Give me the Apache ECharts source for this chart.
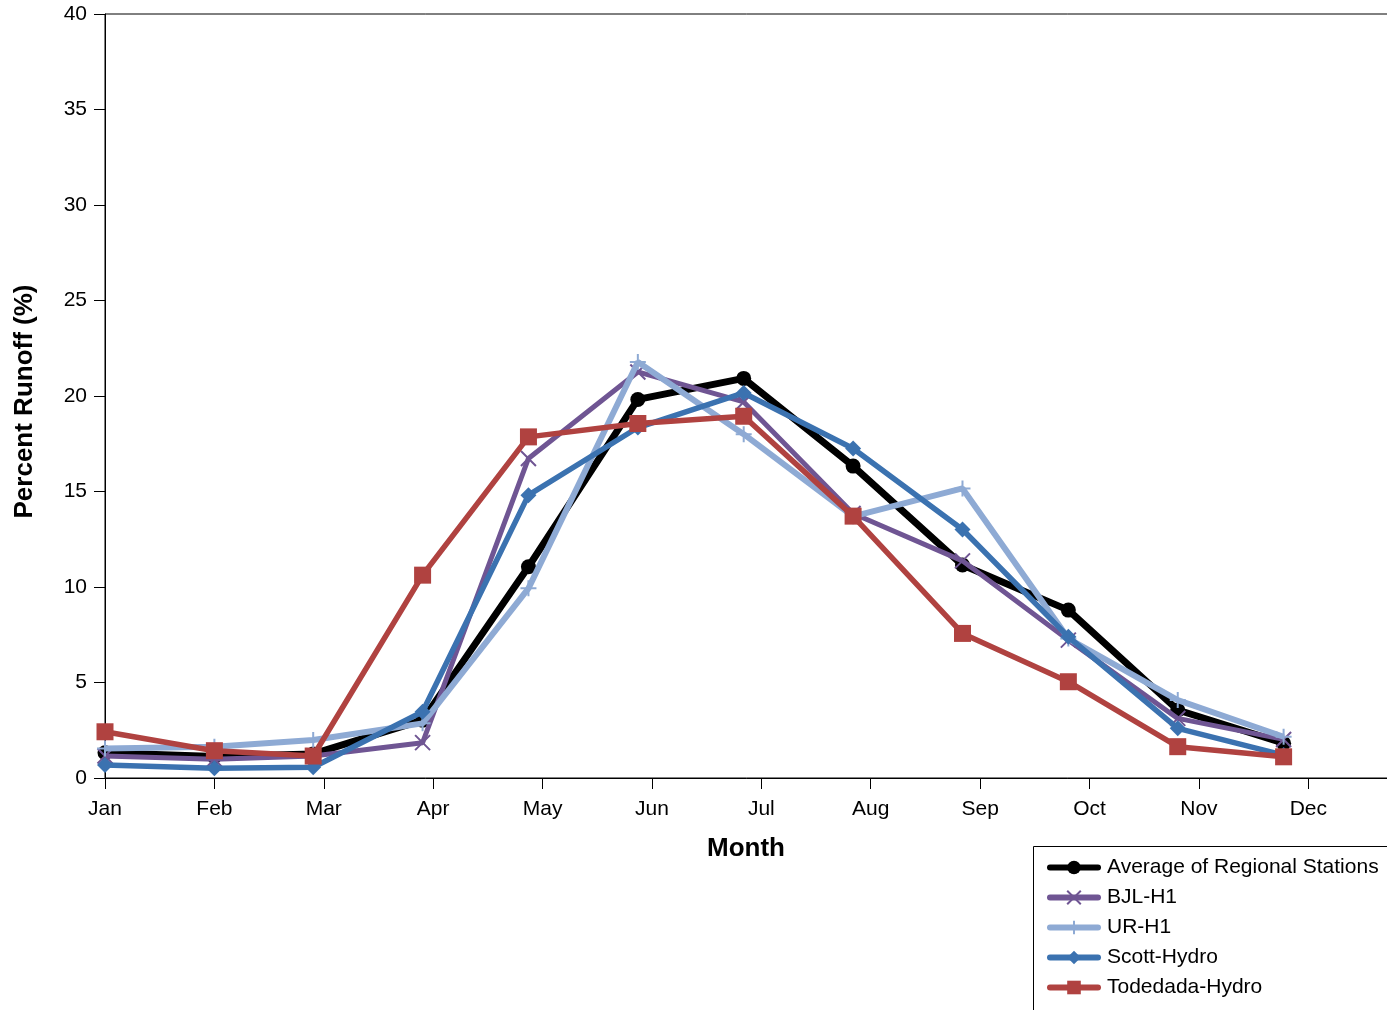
<!DOCTYPE html>
<html>
<head>
<meta charset="utf-8">
<style>
  html, body { margin: 0; padding: 0; background: #fff; }
  #chart { width: 1387px; height: 1010px; }
</style>
<script src="https://cdn.jsdelivr.net/npm/echarts@6/dist/echarts.min.js"></script>
</head>
<body>
<div id="chart"></div>
<script>
// Month tick labels (ticks every 31 days from 1 January)
const months = ['Jan', 'Feb', 'Mar', 'Apr', 'May', 'Jun', 'Jul', 'Aug', 'Sep', 'Oct', 'Nov', 'Dec'];
// Day of year (0 = 1 Jan) at which each monthly value is plotted
const monthStartDay = [0, 31, 59, 90, 120, 151, 181, 212, 243, 273, 304, 334];

// Monthly share of annual runoff, in percent
const avgRegional = [1.32, 1.12, 1.26, 3.03, 11.06, 19.82, 20.92, 16.33, 11.15, 8.79, 3.56, 1.82];
const bjlH1       = [1.15, 0.98, 1.15, 1.85, 16.73, 21.26, 19.69, 13.85, 11.37, 7.22, 3.12, 2.02];
const urH1        = [1.55, 1.64, 1.99, 2.86, 9.93, 21.78, 18.00, 13.70, 15.16, 7.30, 4.08, 2.16];
const scottHydro  = [0.68, 0.51, 0.56, 3.47, 14.81, 18.35, 20.16, 17.25, 13.01, 7.39, 2.60, 1.20];
const todedada    = [2.42, 1.43, 1.15, 10.62, 17.86, 18.56, 18.94, 13.71, 7.57, 5.04, 1.64, 1.11];

const seriesNames = ['Average of Regional Stations', 'BJL-H1', 'UR-H1', 'Scott-Hydro', 'Todedada-Hydro'];
const seriesValues = [avgRegional, bjlH1, urH1, scottHydro, todedada];

const FONT = '"Liberation Sans", Arial, sans-serif';
const colors = ['#000000', '#6f5593', '#8eaad4', '#3b72b0', '#b04240'];
const symbols = [
  'circle',
  'path://M0,0L10,10M10,0L0,10',
  'path://M5,0L5,10M0,5L10,5',
  'diamond',
  'rect'
];
const symbolSizes = [15, 15, 16, 16, 17];
const lineWidths = [7, 5, 6, 5.5, 5.5];

function pairs(values) {
  return values.map((v, i) => [monthStartDay[i], v]);
}

const series = seriesNames.map((name, i) => {
  const isStroke = i === 1 || i === 2;
  return {
    name: name,
    type: 'line',
    data: pairs(seriesValues[i]),
    symbol: symbols[i],
    symbolSize: symbolSizes[i],
    showAllSymbol: true,
    color: colors[i],
    lineStyle: { width: lineWidths[i], color: colors[i] },
    itemStyle: isStroke
      ? { color: colors[i], borderColor: colors[i], borderWidth: 2 }
      : { color: colors[i], borderWidth: 0 },
    emphasis: { disabled: true },
    animation: false,
    z: 2 + i
  };
});

const chart = echarts.init(document.getElementById('chart'), null, { renderer: 'canvas' });
chart.setOption({
  backgroundColor: '#ffffff',
  animation: false,
  grid: {
    left: 105,
    top: 14,
    bottom: 232,
    width: 1288,
    outerBoundsMode: 'none',
    containLabel: false,
    show: true,
    borderColor: '#000',
    borderWidth: 1,
    backgroundColor: 'transparent'
  },
  xAxis: {
    type: 'value',
    min: 0,
    max: 365,
    interval: 31,
    name: 'Month',
    nameLocation: 'middle',
    nameGap: 58,
    nameTextStyle: {
      fontFamily: FONT, fontSize: 26, fontWeight: 'bold', color: '#000',
      padding: [0, 6, 0, 0]
    },
    axisLine: { show: true, lineStyle: { color: '#000', width: 1 } },
    axisTick: { show: true, inside: false, length: 11, lineStyle: { color: '#000' } },
    axisLabel: {
      fontFamily: FONT, fontSize: 21, color: '#000', margin: 21,
      showMaxLabel: false,
      formatter: v => months[Math.round(v / 31)] || ''
    },
    splitLine: { show: false }
  },
  yAxis: {
    type: 'value',
    min: 0,
    max: 40,
    interval: 5,
    name: 'Percent Runoff (%)',
    nameLocation: 'middle',
    nameGap: 67,
    nameTextStyle: {
      fontFamily: FONT, fontSize: 26, fontWeight: 'bold', color: '#000',
      padding: [0, 11, 0, 0]
    },
    axisLine: { show: true, lineStyle: { color: '#000', width: 1 } },
    axisTick: { show: true, inside: false, length: 11, lineStyle: { color: '#000' } },
    axisLabel: { fontFamily: FONT, fontSize: 21, color: '#000', margin: 18 },
    splitLine: { show: false }
  },
  legend: {
    orient: 'vertical',
    left: 1047,
    top: 857,
    padding: 0,
    itemWidth: 48,
    itemHeight: 17,
    itemGap: 9,
    selectedMode: false,
    data: seriesNames,
    lineStyle: { width: 6, cap: 'round' },
    textStyle: { fontFamily: FONT, fontSize: 21, color: '#000', lineHeight: 20, padding: [0, 0, 0, 4] }
  },
  graphic: [{
    type: 'rect',
    shape: { x: 1033.5, y: 846.5, width: 400, height: 200 },
    style: { fill: 'none', stroke: '#000', lineWidth: 1 },
    z: 0
  }],
  series: series
});
</script>
</body>
</html>
